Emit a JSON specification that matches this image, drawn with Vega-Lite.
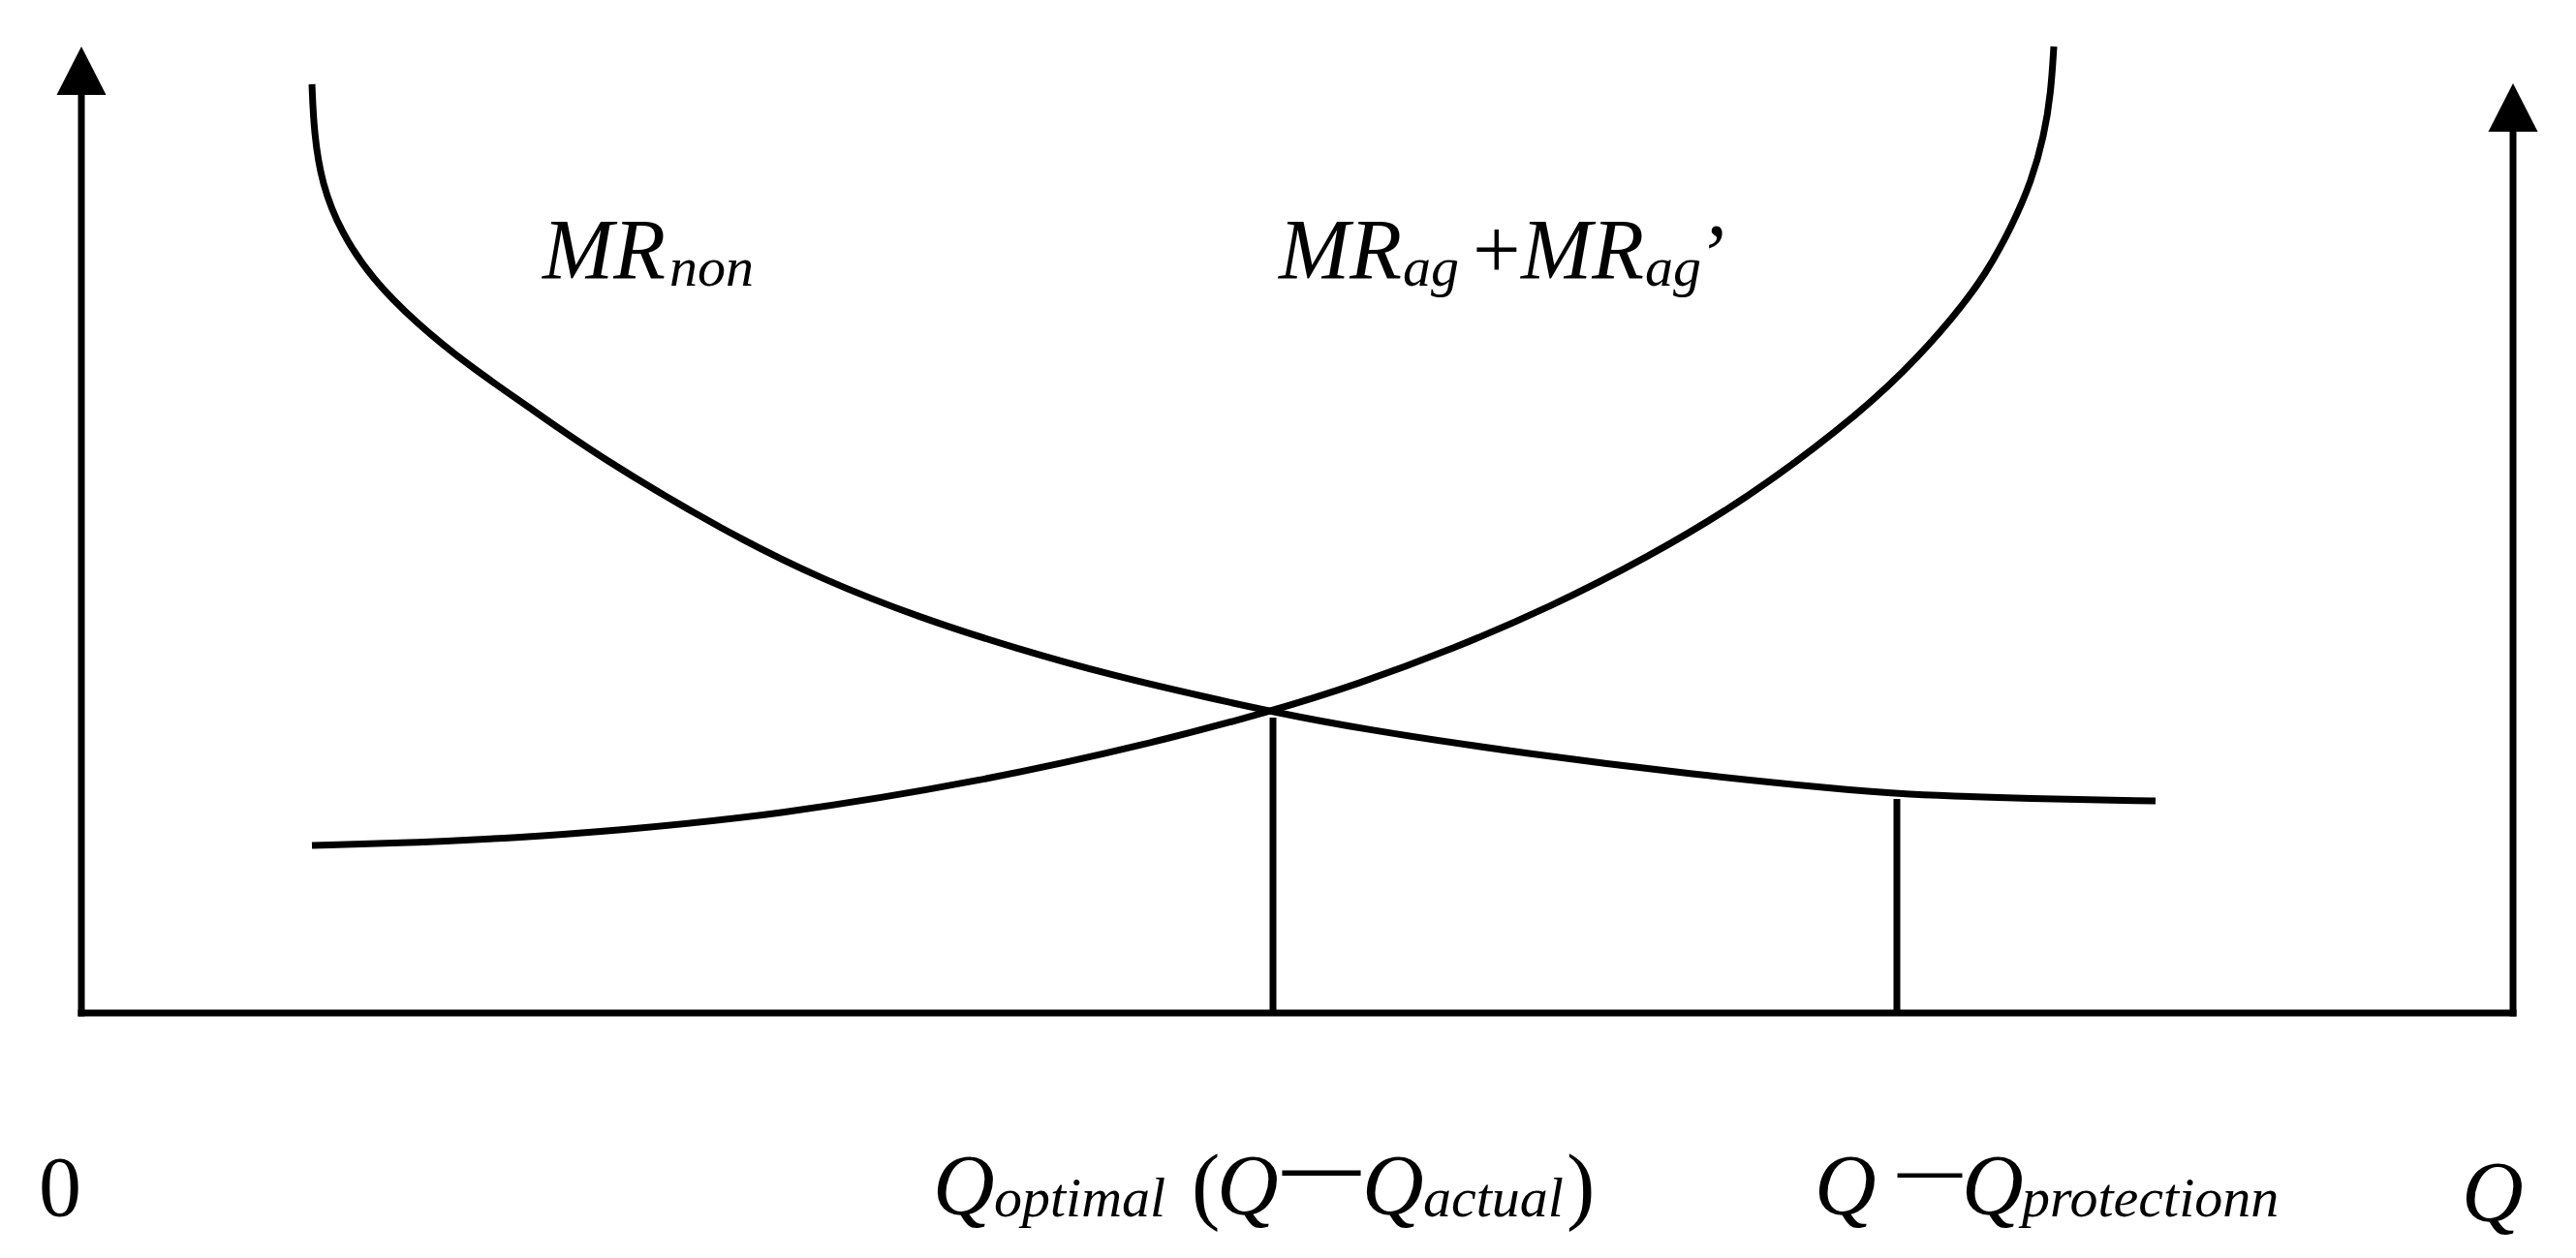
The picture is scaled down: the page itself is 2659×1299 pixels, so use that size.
{
  "$schema": "https://vega.github.io/schema/vega-lite/v6.json",
  "width": 2659,
  "height": 1299,
  "autosize": {"type": "fit", "contains": "padding"},
  "padding": 0,
  "background": "white",
  "config": {"view": {"stroke": null}},
  "datasets": {
    "rules": [
      {"part": "vertical axis", "x": 0, "x2": 0, "y": -3.5, "y2": 950},
      {"part": "right axis", "x": 2510, "x2": 2510, "y": -3.5, "y2": 912},
      {"part": "Q axis", "x": -3.5, "x2": 2513.5, "y": 0, "y2": 0},
      {"part": "Q optimal", "x": 1230, "x2": 1230, "y": 0, "y2": 305},
      {"part": "Q protection", "x": 1874, "x2": 1874, "y": 0, "y2": 221}
    ],
    "arrows": [
      {"part": "vertical axis", "x": 0, "y": 973},
      {"part": "right axis", "x": 2510, "y": 935}
    ],
    "curves": [
      {"curve": "MRnon", "q": 238, "mr": 959},
      {"curve": "MRnon", "q": 240, "mr": 910},
      {"curve": "MRnon", "q": 248, "mr": 856},
      {"curve": "MRnon", "q": 268, "mr": 806},
      {"curve": "MRnon", "q": 300, "mr": 758},
      {"curve": "MRnon", "q": 345, "mr": 713},
      {"curve": "MRnon", "q": 399, "mr": 669},
      {"curve": "MRnon", "q": 460, "mr": 627},
      {"curve": "MRnon", "q": 533, "mr": 575},
      {"curve": "MRnon", "q": 666, "mr": 496},
      {"curve": "MRnon", "q": 766, "mr": 447},
      {"curve": "MRnon", "q": 866, "mr": 408},
      {"curve": "MRnon", "q": 966, "mr": 376},
      {"curve": "MRnon", "q": 1066, "mr": 348},
      {"curve": "MRnon", "q": 1166, "mr": 325},
      {"curve": "MRnon", "q": 1230, "mr": 311},
      {"curve": "MRnon", "q": 1316, "mr": 294},
      {"curve": "MRnon", "q": 1496, "mr": 267},
      {"curve": "MRnon", "q": 1666, "mr": 246},
      {"curve": "MRnon", "q": 1816, "mr": 231},
      {"curve": "MRnon", "q": 1873, "mr": 226},
      {"curve": "MRnon", "q": 2016, "mr": 221},
      {"curve": "MRnon", "q": 2141, "mr": 219},
      {"curve": "MRag", "q": 238, "mr": 173},
      {"curve": "MRag", "q": 349, "mr": 176},
      {"curve": "MRag", "q": 449, "mr": 181},
      {"curve": "MRag", "q": 549, "mr": 188},
      {"curve": "MRag", "q": 716, "mr": 204},
      {"curve": "MRag", "q": 933, "mr": 240},
      {"curve": "MRag", "q": 1103, "mr": 278},
      {"curve": "MRag", "q": 1230, "mr": 312},
      {"curve": "MRag", "q": 1316, "mr": 339},
      {"curve": "MRag", "q": 1416, "mr": 376},
      {"curve": "MRag", "q": 1516, "mr": 419},
      {"curve": "MRag", "q": 1616, "mr": 470},
      {"curve": "MRag", "q": 1716, "mr": 529},
      {"curve": "MRag", "q": 1816, "mr": 603},
      {"curve": "MRag", "q": 1883, "mr": 663},
      {"curve": "MRag", "q": 1933, "mr": 719},
      {"curve": "MRag", "q": 1966, "mr": 763},
      {"curve": "MRag", "q": 1993, "mr": 813},
      {"curve": "MRag", "q": 2013, "mr": 859},
      {"curve": "MRag", "q": 2026, "mr": 906},
      {"curve": "MRag", "q": 2033, "mr": 950},
      {"curve": "MRag", "q": 2036, "mr": 998}
    ],
    "labels": [
      {"role": "main", "x": 476, "y": 759, "text": "MR"},
      {"role": "sub", "x": 607, "y": 751, "text": "non"},
      {"role": "main", "x": 1236, "y": 759, "text": "MR"},
      {"role": "sub", "x": 1364, "y": 751, "text": "ag"},
      {"role": "upright", "x": 1436, "y": 759, "text": "+"},
      {"role": "main", "x": 1486, "y": 759, "text": "MR"},
      {"role": "sub", "x": 1614, "y": 751, "text": "ag"},
      {"role": "main", "x": 1667, "y": 754, "text": "’"},
      {"role": "upright", "x": -44, "y": -209, "text": "0"},
      {"role": "main", "x": 879, "y": -207, "text": "Q"},
      {"role": "sub", "x": 942, "y": -210, "text": "optimal"},
      {"role": "upright", "x": 1146, "y": -207, "text": "("},
      {"role": "main", "x": 1172, "y": -207, "text": "Q"},
      {"role": "dash", "x": 1240, "y": -184, "text": "—"},
      {"role": "main", "x": 1322, "y": -207, "text": "Q"},
      {"role": "sub", "x": 1385, "y": -210, "text": "actual"},
      {"role": "upright", "x": 1533, "y": -207, "text": ")"},
      {"role": "main", "x": 1789, "y": -207, "text": "Q"},
      {"role": "shortdash", "x": 1875, "y": -183, "text": "—"},
      {"role": "main", "x": 1941, "y": -207, "text": "Q"},
      {"role": "sub", "x": 2003, "y": -210, "text": "protectionn"},
      {"role": "main", "x": 2457, "y": -214, "text": "Q"}
    ]
  },
  "layer": [
    {
      "data": {"name": "rules"},
      "mark": {"type": "rule", "stroke": "black", "strokeWidth": 7},
      "encoding": {
        "x": {"field": "x", "type": "quantitative", "scale": {"domain": [-84, 2575], "nice": false, "zero": false}, "axis": null},
        "x2": {"field": "x2"},
        "y": {"field": "y", "type": "quantitative", "scale": {"domain": [-253, 1046], "nice": false, "zero": false}, "axis": null},
        "y2": {"field": "y2"}
      }
    },
    {
      "data": {"name": "curves"},
      "mark": {"type": "line", "stroke": "black", "strokeWidth": 7, "interpolate": "basis", "clip": false},
      "encoding": {
        "x": {"field": "q", "type": "quantitative"},
        "y": {"field": "mr", "type": "quantitative"},
        "detail": {"field": "curve"}
      }
    },
    {
      "data": {"name": "arrows"},
      "mark": {"type": "point", "shape": "M0,-1L-1.02,1L1.02,1Z", "size": 2500, "filled": true, "fill": "black", "stroke": null, "opacity": 1},
      "encoding": {
        "x": {"field": "x", "type": "quantitative"},
        "y": {"field": "y", "type": "quantitative"}
      }
    },
    {
      "data": {"name": "labels"},
      "transform": [{"filter": "datum.role === 'main'"}],
      "mark": {"type": "text", "font": "Liberation Serif", "fontStyle": "italic", "fontSize": 88, "align": "left", "baseline": "alphabetic", "fill": "black"},
      "encoding": {
        "x": {"field": "x", "type": "quantitative"},
        "y": {"field": "y", "type": "quantitative"},
        "text": {"field": "text"}
      }
    },
    {
      "data": {"name": "labels"},
      "transform": [{"filter": "datum.role === 'sub'"}],
      "mark": {"type": "text", "font": "Liberation Serif", "fontStyle": "italic", "fontSize": 58, "align": "left", "baseline": "alphabetic", "fill": "black"},
      "encoding": {
        "x": {"field": "x", "type": "quantitative"},
        "y": {"field": "y", "type": "quantitative"},
        "text": {"field": "text"}
      }
    },
    {
      "data": {"name": "labels"},
      "transform": [{"filter": "datum.role === 'upright'"}],
      "mark": {"type": "text", "font": "Liberation Serif", "fontSize": 88, "align": "left", "baseline": "alphabetic", "fill": "black"},
      "encoding": {
        "x": {"field": "x", "type": "quantitative"},
        "y": {"field": "y", "type": "quantitative"},
        "text": {"field": "text"}
      }
    },
    {
      "data": {"name": "labels"},
      "transform": [{"filter": "datum.role === 'dash'"}],
      "mark": {"type": "text", "font": "Liberation Serif", "fontWeight": "bold", "fontSize": 80, "align": "left", "baseline": "alphabetic", "fill": "black"},
      "encoding": {
        "x": {"field": "x", "type": "quantitative"},
        "y": {"field": "y", "type": "quantitative"},
        "text": {"field": "text"}
      }
    },
    {
      "data": {"name": "labels"},
      "transform": [{"filter": "datum.role === 'shortdash'"}],
      "mark": {"type": "text", "font": "Liberation Serif", "fontWeight": "bold", "fontSize": 66, "align": "left", "baseline": "alphabetic", "fill": "black"},
      "encoding": {
        "x": {"field": "x", "type": "quantitative"},
        "y": {"field": "y", "type": "quantitative"},
        "text": {"field": "text"}
      }
    }
  ]
}
